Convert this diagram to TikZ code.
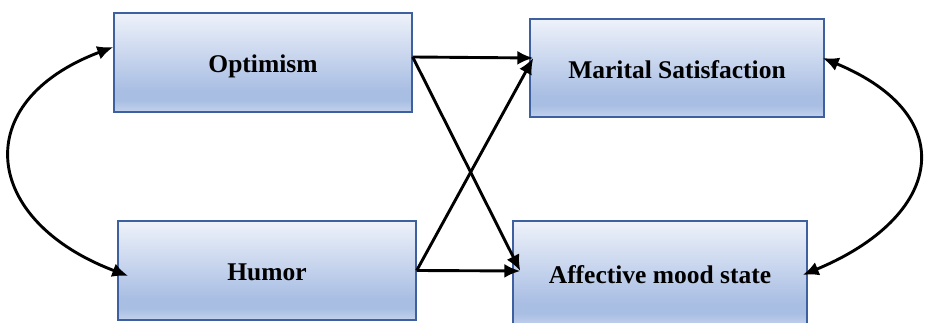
\documentclass[tikz,border=0pt]{standalone}
\usepackage{fontspec}
\setmainfont{Liberation Serif}
\usetikzlibrary{arrows.meta,calc}
\definecolor{boxtop}{HTML}{EEF2FA}
\definecolor{boxdark}{HTML}{A9BEE3}
\definecolor{boxlow}{HTML}{C3D2EE}
\definecolor{boxline}{HTML}{3E609F}
\pgfdeclareverticalshading{boxshade}{100bp}{color(0bp)=(boxlow); color(25bp)=(boxlow); color(31bp)=(boxdark); color(36bp)=(boxdark); color(75bp)=(boxtop); color(100bp)=(boxtop)}
\tikzset{>=Latex}

\begin{document}
\begin{tikzpicture}[x=1pt, y=1pt,
  var/.style={draw=boxline, line width=1.4pt, shade, shading=boxshade, inner sep=0pt, text height=21pt, text depth=0pt, font=\fontsize{25.5}{30}\selectfont\bfseries},
  effect/.style={line width=2.9pt, -{Latex[length=16pt,width=14pt]}},
  corr/.style={line width=2.9pt, {Latex[length=16pt,width=14pt]}-{Latex[length=16pt,width=14pt]}}]

    \useasboundingbox (0,0) rectangle (930,323);

    % Predictors
    \node[var, minimum width=298pt, minimum height=99pt] (opt) at (263,260.5) {Optimism};
    \node[var, minimum width=298pt, minimum height=99pt] (hum) at (267,52.5) {Humor};

    % Outcomes
    \node[var, minimum width=294pt, minimum height=98pt] (mar) at (677,255) {Marital Satisfaction};
    \node[var, minimum width=294pt, minimum height=105pt] (aff) at (660,49.5) {Affective mood state};

    % Paths
    \draw[effect] ([yshift=5.5pt]opt.east) -- ([xshift=4pt,yshift=10pt]mar.west);
    \draw[effect] ([yshift=5.5pt]opt.east) -- ([xshift=8pt,yshift=2.5pt]aff.west);
    \draw[effect] (hum.east) -- ([xshift=4pt,yshift=10pt]mar.west);
    \draw[effect] (hum.east) -- ([xshift=8pt,yshift=2.5pt]aff.west);

    % Correlations
    \draw[corr] ([yshift=15.5pt]opt.west) .. controls +(-146,-55) and +(-146,55) .. ([xshift=11pt,yshift=-5.5pt]hum.west);
    \draw[corr] ([xshift=-2pt,yshift=10pt]mar.east) .. controls +(140,-58) and +(140,58) .. ([xshift=-5pt,yshift=-1.5pt]aff.east);
\end{tikzpicture}
\end{document}
